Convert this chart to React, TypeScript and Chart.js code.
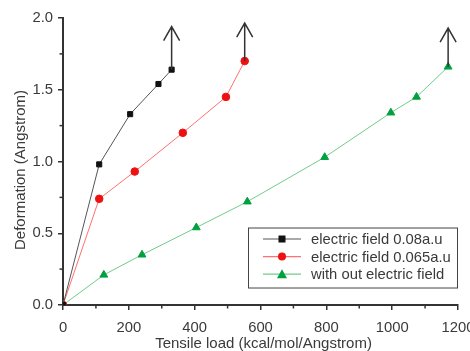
import React, { useEffect, useRef } from "react";
import { Chart, registerables } from "chart.js";

Chart.register(...registerables);

const FONT = "'Liberation Sans', Arial, Helvetica, sans-serif";

const seriesLabels = [
  "electric field 0.08a.u",
  "electric field 0.065a.u",
  "with out electric field",
];

const loadA = [0, 110, 204, 290, 330];
const defA = [0, 0.98, 1.33, 1.54, 1.64];

const loadB = [0, 110, 218, 364, 495, 552];
const defB = [0, 0.74, 0.93, 1.2, 1.45, 1.7];

const loadC = [0, 124, 240, 405, 560, 795, 996, 1074, 1170];
const defC = [0, 0.21, 0.35, 0.54, 0.72, 1.03, 1.34, 1.45, 1.66];

// arrows drawn upward from the last point of each series
const arrowX = [330, 552, 1170];
const arrowFrom = [1.64, 1.7, 1.66];
const arrowTo = [1.94, 1.965, 1.93];

const xTicks = [0, 200, 400, 600, 800, 1000, 1200];
const xMinor = [100, 300, 500, 700, 900, 1100];
const yTicks = [0, 0.5, 1.0, 1.5, 2.0];
const yMinor = [0.25, 0.75, 1.25, 1.75];

const xTitle = "Tensile load (kcal/mol/Angstrom)";
const yTitle = "Deformation (Angstrom)";

const AXIS = "#333333";
const TEXT = "#3a3a3a";

const zip = (xs: number[], ys: number[]) => xs.map((x, i) => ({ x, y: ys[i] }));

const extrasPlugin = {
  id: "extras",
  afterDraw(chart: any) {
    const ctx = chart.ctx;
    const xs = chart.scales.x;
    const ys = chart.scales.y;
    const area = chart.chartArea;
    ctx.save();
    // minor ticks
    ctx.strokeStyle = AXIS;
    ctx.lineWidth = 1.5;
    xMinor.forEach((v) => {
      const px = xs.getPixelForValue(v);
      ctx.beginPath();
      ctx.moveTo(px, area.bottom);
      ctx.lineTo(px, area.bottom + 3.5);
      ctx.stroke();
    });
    yMinor.forEach((v) => {
      const py = ys.getPixelForValue(v);
      ctx.beginPath();
      ctx.moveTo(area.left, py);
      ctx.lineTo(area.left - 3.5, py);
      ctx.stroke();
    });
    // arrows
    ctx.strokeStyle = "#333333";
    ctx.lineWidth = 1.5;
    arrowX.forEach((v, i) => {
      const px = xs.getPixelForValue(v);
      const p0 = ys.getPixelForValue(arrowFrom[i]);
      const p1 = ys.getPixelForValue(arrowTo[i]);
      ctx.beginPath();
      ctx.moveTo(px, p0);
      ctx.lineTo(px, p1);
      ctx.moveTo(px - 8, p1 + 14);
      ctx.lineTo(px, p1);
      ctx.lineTo(px + 8, p1 + 14);
      ctx.stroke();
    });
    // titles
    ctx.fillStyle = TEXT;
    ctx.font = `15px ${FONT}`;
    ctx.textAlign = "center";
    ctx.textBaseline = "alphabetic";
    ctx.fillText(xTitle, (area.left + area.right) / 2 + 3, 348);
    ctx.save();
    ctx.translate(25, 170);
    ctx.rotate(-Math.PI / 2);
    ctx.fillText(yTitle, 0, 0);
    ctx.restore();
    // legend
    const bx = area.right - 210;
    const by = ys.getPixelForValue(0.54);
    const bw = 209;
    const bh = 60;
    ctx.fillStyle = "#ffffff";
    ctx.fillRect(bx, by, bw, bh);
    ctx.strokeStyle = "#444444";
    ctx.lineWidth = 1;
    ctx.strokeRect(bx + 0.5, by + 0.5, bw, bh);
    chart.data.datasets.forEach((ds: any, i: number) => {
      const ry = by + 11.5 + i * 17.6;
      ctx.strokeStyle = ds.borderColor;
      ctx.lineWidth = 1.2;
      ctx.beginPath();
      ctx.moveTo(bx + 15, ry);
      ctx.lineTo(bx + 53, ry);
      ctx.stroke();
      ctx.fillStyle = ds.pointBackgroundColor;
      const cx = bx + 34;
      if (ds.pointStyle === "rect") {
        ctx.fillRect(cx - 3.5, ry - 3.5, 7, 7);
      } else if (ds.pointStyle === "circle") {
        ctx.beginPath();
        ctx.arc(cx, ry, 4, 0, Math.PI * 2);
        ctx.fill();
      } else {
        ctx.beginPath();
        ctx.moveTo(cx, ry - 5);
        ctx.lineTo(cx + 5, ry + 4);
        ctx.lineTo(cx - 5, ry + 4);
        ctx.closePath();
        ctx.fill();
      }
      ctx.fillStyle = TEXT;
      ctx.font = `14.8px ${FONT}`;
      ctx.textAlign = "left";
      ctx.textBaseline = "middle";
      ctx.fillText(ds.label, bx + 63, ry + 1);
    });
    ctx.restore();
  },
};

export default function App() {
  const ref = useRef<HTMLCanvasElement | null>(null);
  useEffect(() => {
    if (!ref.current) return;
    const chart = new Chart(ref.current, {
      type: "line",
      data: {
        datasets: [
          {
            label: seriesLabels[0],
            data: zip(loadA, defA),
            borderColor: "#555555",
            backgroundColor: "#111111",
            pointBackgroundColor: "#111111",
            pointBorderColor: "#111111",
            pointStyle: "rect",
            pointRadius: 3.6,
            borderWidth: 1,
            tension: 0,
          },
          {
            label: seriesLabels[1],
            data: zip(loadB, defB),
            borderColor: "#ff7070",
            backgroundColor: "#ee1111",
            pointBackgroundColor: "#ee1111",
            pointBorderColor: "#ee1111",
            pointStyle: "circle",
            pointRadius: 3.8,
            borderWidth: 1,
            tension: 0,
          },
          {
            label: seriesLabels[2],
            data: zip(loadC, defC),
            borderColor: "#70cc8a",
            backgroundColor: "#00a040",
            pointBackgroundColor: "#00a040",
            pointBorderColor: "#00a040",
            pointStyle: "triangle",
            pointRadius: 4.5,
            borderWidth: 1,
            tension: 0,
          },
        ],
      },
      options: {
        animation: false,
        responsive: true,
        maintainAspectRatio: false,
        layout: { padding: { top: 18, right: 12, left: 0, bottom: 0 } },
        plugins: {
          legend: { display: false },
          tooltip: { enabled: false },
        },
        scales: {
          x: {
            type: "linear",
            min: 0,
            max: 1200,
            afterBuildTicks: (s: any) => {
              s.ticks = xTicks.map((v) => ({ value: v }));
            },
            afterFit: (s: any) => {
              s.height = 46;
              s.paddingLeft = 0;
              s.paddingRight = 0;
            },
            grid: {
              drawOnChartArea: false,
              drawTicks: true,
              tickLength: 5,
              color: AXIS,
              lineWidth: 1.5,
            },
            border: { display: true, color: AXIS, width: 2 },
            ticks: {
              color: TEXT,
              font: { family: FONT, size: 14.8 },
              padding: 9,
              maxRotation: 0,
              autoSkip: false,
              callback: (v: any) => String(v),
            },
          },
          y: {
            type: "linear",
            min: 0,
            max: 2,
            afterBuildTicks: (s: any) => {
              s.ticks = yTicks.map((v) => ({ value: v }));
            },
            afterFit: (s: any) => {
              s.width = 63;
              s.paddingTop = 0;
              s.paddingBottom = 0;
            },
            grid: {
              drawOnChartArea: false,
              drawTicks: true,
              tickLength: 5,
              color: AXIS,
              lineWidth: 1.5,
            },
            border: { display: true, color: AXIS, width: 2 },
            ticks: {
              color: TEXT,
              font: { family: FONT, size: 14.8 },
              padding: 5,
              autoSkip: false,
              callback: (v: any) => Number(v).toFixed(1),
            },
          },
        },
      },
      plugins: [extrasPlugin],
    });
    return () => chart.destroy();
  }, []);
  return (
    <div style={{ position: "fixed", left: 0, top: 0, width: 470, height: 351, background: "#fff" }}>
      <canvas ref={ref} />
    </div>
  );
}
